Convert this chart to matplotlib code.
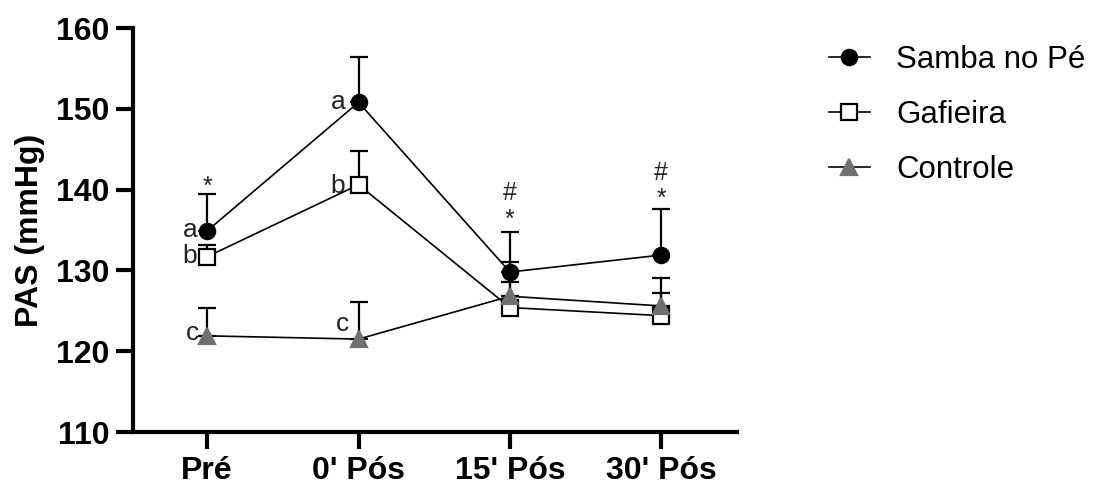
import numpy as np
import matplotlib
matplotlib.use("Agg")
import matplotlib.pyplot as plt

plt.rcParams['font.family'] = ['Liberation Sans', 'DejaVu Sans']

categories = ["Pré", "0' Pós", "15' Pós", "30' Pós"]
samba = [134.9, 150.8, 129.8, 131.9]
samba_err = [4.6, 5.6, 5.0, 5.7]
gafieira = [131.7, 140.6, 125.4, 124.4]
gafieira_err = [1.5, 4.2, 3.2, 2.8]
controle = [121.9, 121.5, 126.8, 125.6]
controle_err = [3.4, 4.6, 4.3, 3.4]

# annotations: (category index, x offset, y value, text)
letters = [(0, -0.115, 135.0, "a"), (0, -0.115, 131.8, "b"), (0, -0.10, 122.2, "c"),
           (1, -0.135, 150.9, "a"), (1, -0.135, 140.5, "b"), (1, -0.105, 123.4, "c")]
symbols = [(0, 0.0, 140.4, "*"), (2, 0.0, 139.6, "#"), (2, 0.0, 136.3, "*"),
           (3, 0.0, 142.1, "#"), (3, 0.0, 138.9, "*")]

gray = "#707070"

fig = plt.figure(figsize=(10.97, 4.84), dpi=100)
ax = fig.add_axes([133/1097, 1-432/484, (737-133)/1097, (432-28)/484])
x = np.arange(len(categories))

def draw(vals, errs, marker, mfc, mec, ms, label, z):
    ax.errorbar(x, vals, yerr=[np.zeros(len(vals)), errs], fmt='none',
                ecolor='black', elinewidth=1.6, capsize=6.5, capthick=1.6, zorder=z)
    ax.plot(x, vals, color='black', lw=1.2, marker=marker, ms=ms, mfc=mfc,
            mec=mec, mew=1.6, label=label, zorder=z + 0.5)

draw(samba, samba_err, 'o', 'black', 'black', 11, 'Samba no Pé', 5)
draw(gafieira, gafieira_err, 's', 'white', 'black', 11, 'Gafieira', 3)
draw(controle, controle_err, '^', gray, gray, 12, 'Controle', 4)

for i, dx, yv, t in letters:
    ax.text(x[i] + dx, yv, t, fontsize=19, ha='center', va='center', color='#222222', zorder=10)
for i, dx, yv, t in symbols:
    ax.text(x[i] + dx, yv, t, fontsize=18, ha='center', va='center', color='#222222', zorder=10)

ax.set_xlim(-0.49, 3.5)
ax.set_ylim(110, 160)
ax.set_yticks([110, 120, 130, 140, 150, 160])
ax.set_xticks(x)
ax.set_xticklabels(categories)
for s in ['top', 'right']:
    ax.spines[s].set_visible(False)
for s in ['left', 'bottom']:
    ax.spines[s].set_linewidth(3)
ax.tick_params(width=3, length=12, labelsize=23, pad=5)
for lab in ax.get_xticklabels() + ax.get_yticklabels():
    lab.set_fontweight('bold')
ax.set_ylabel('PAS (mmHg)', fontsize=23, fontweight='bold', labelpad=8)

fig.legend(loc='upper left', bbox_to_anchor=(829/1097, 1-45/484), frameon=False,
           fontsize=22.5, handlelength=1.3, handletextpad=0.85, labelspacing=0.8,
           borderpad=0, borderaxespad=0)

fig.savefig('out.png', dpi=100)
